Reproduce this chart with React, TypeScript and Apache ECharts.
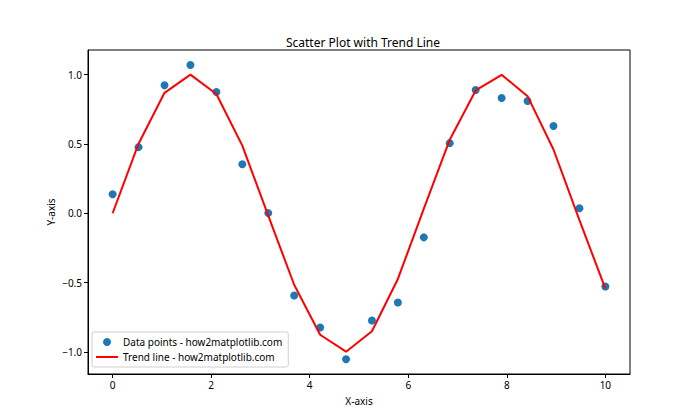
import React, { useEffect, useRef } from "react";
import * as echarts from "echarts";

const xValues = [0, 0.526, 1.053, 1.579, 2.105, 2.632, 3.158, 3.684, 4.211, 4.737, 5.263, 5.789, 6.316, 6.842, 7.368, 7.895, 8.421, 8.947, 9.474, 10];
const scatterY = [0.137, 0.477, 0.923, 1.070, 0.875, 0.354, 0.001, -0.593, -0.824, -1.054, -0.774, -0.644, -0.174, 0.506, 0.889, 0.832, 0.81, 0.629, 0.036, -0.528];
const trendY = [0, 0.502, 0.869, 1.0, 0.86, 0.488, -0.017, -0.516, -0.877, -0.999, -0.852, -0.474, 0.033, 0.531, 0.886, 0.999, 0.845, 0.46, -0.05, -0.544];
const xTicks = [0, 2, 4, 6, 8, 10];
const yTicks = [-1, -0.5, 0, 0.5, 1];

const FONT = "Noto Sans";

export default function App() {
  const ref = useRef<HTMLDivElement>(null);
  useEffect(() => {
    const chart = echarts.init(ref.current!, null, { renderer: "svg" });
    const fmtY = (v: number) => (v < 0 ? "\u2212" : "") + Math.abs(v).toFixed(1);
    chart.setOption({
      animation: false,
      backgroundColor: "#fff",
      textStyle: { fontFamily: FONT },
      title: {
        text: "Scatter Plot with Trend Line",
        left: 358,
        top: 31,
        textAlign: "center",
        textStyle: { fontFamily: FONT, fontSize: 12, fontWeight: "normal", color: "#000" },
      },
      grid: { left: 88, right: 70, top: 50, bottom: 46, show: true, borderColor: "#000", borderWidth: 1 },
      legend: {
        orient: "vertical",
        left: 92,
        top: 332,
        padding: [5, 6, 5, 4],
        itemGap: 5,
        itemWidth: 22,
        itemHeight: 8,
        symbolKeepAspect: true,
        borderColor: "#d0d0d0",
        borderWidth: 1,
        borderRadius: 2,
        backgroundColor: "#fff",
        textStyle: { fontFamily: FONT, fontSize: 10, color: "#000" },
        data: [
          { name: "Data points - how2matplotlib.com", icon: "circle" },
          { name: "Trend line - how2matplotlib.com", icon: "path://M0,0L22,0L22,2L0,2Z", itemStyle: { color: "#ff0000" } },
        ],
      },
      xAxis: {
        type: "value",
        min: -0.5,
        max: 10.5,
        name: "X-axis",
        nameLocation: "middle",
        nameGap: 22,
        nameMoveOverlap: false,
        nameTextStyle: { fontFamily: FONT, fontSize: 10, color: "#000" },
        splitLine: { show: false },
        axisLine: { show: true, onZero: false, lineStyle: { color: "#000" } },
        axisTick: { show: true, length: 4, lineStyle: { color: "#000" }, customValues: xTicks },
        axisLabel: { fontFamily: FONT, fontSize: 10, color: "#000", margin: 6, customValues: xTicks },
      },
      yAxis: {
        type: "value",
        min: -1.16,
        max: 1.178,
        name: "Y-axis",
        nameLocation: "middle",
        nameGap: 32,
        nameMoveOverlap: false,
        nameTextStyle: { fontFamily: FONT, fontSize: 10, color: "#000" },
        splitLine: { show: false },
        axisLine: { show: true, onZero: false, lineStyle: { color: "#000" } },
        axisTick: { show: true, length: 4, lineStyle: { color: "#000" }, customValues: yTicks },
        axisLabel: { fontFamily: FONT, fontSize: 10, color: "#000", margin: 6, customValues: yTicks, formatter: fmtY },
      },
      series: [
        {
          name: "Data points - how2matplotlib.com",
          type: "scatter",
          symbolSize: 8,
          itemStyle: { color: "#1f77b4", opacity: 1 },
          data: xValues.map((x, i) => [x, scatterY[i]]),
          z: 2,
        },
        {
          name: "Trend line - how2matplotlib.com",
          type: "line",
          symbol: "none",
          lineStyle: { color: "#ff0000", width: 2 },
          itemStyle: { color: "#ff0000" },
          data: xValues.map((x, i) => [x, trendY[i]]),
          z: 3,
        },
      ],
    });
    return () => chart.dispose();
  }, []);
  return <div ref={ref} style={{ position: "fixed", left: 0, top: 0, width: 700, height: 420 }} />;
}
